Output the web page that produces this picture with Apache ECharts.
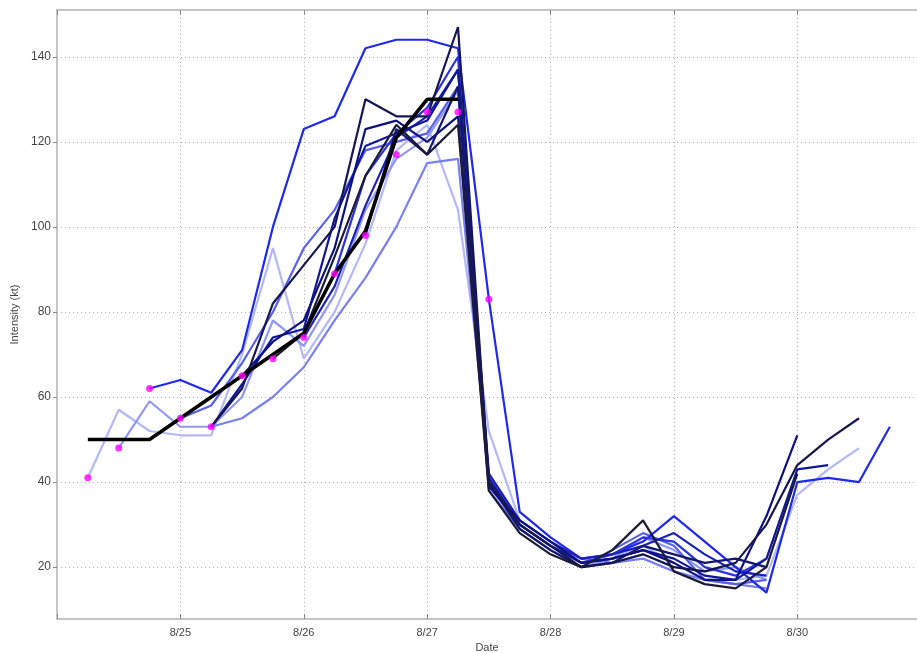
<!DOCTYPE html>
<html>
<head>
<meta charset="utf-8">
<script src="https://cdn.jsdelivr.net/npm/echarts@6/dist/echarts.min.js"></script>
<style>
  html, body { margin: 0; padding: 0; background: #fff; }
  #chart { width: 917px; height: 653px; }
</style>
</head>
<body>
<div id="chart"></div>
<script>
// 时间轴：8月的日（6小时一步）
var dayTicks = [25, 26, 27, 28, 29, 30];
var yTicks = [20, 40, 60, 80, 100, 120, 140];
var step = 0.25;

// 实测强度（品红点），起点 8/24 06Z
var obsStart = 24.25;
var obsValues = [41, 48, 62, 55, 53, 65, 69, 74, 89, 98, 117, 127, 127, 83];

// 最佳路径（黑粗线）
var bestStart = 24.25;
var bestValues = [50, 50, 50, 55, 60, 65, 70, 75, 89, 99, 121, 130, 130];

// 各预报序列：起报时间 + 强度，颜色由浅到深
var fc1Start = 24.25;
var fc1 = [41, 57, 52, 51, 51, 70, 95, 69, 80, 96, 118, 124, 104, 52, 31, 26, 21, 22, 25, 21, 17, 17, 18, 37, 43, 48];
var fc2Start = 24.5;
var fc2 = [48, 59, 53, 53, 60, 78, 72, 84, 104, 116, 121, 132, 40, 29, 24, 20, 22, 27, 24, 19, 20, 17];
var fc3Start = 25.25;
var fc3 = [53, 55, 60, 67, 78, 88, 100, 115, 116, 42, 30, 25, 22, 21, 22, 19, 17, 16, 15];
var fc4Start = 25.0;
var fc4 = [55, 58, 68, 80, 95, 104, 118, 120, 122, 133, 38, 29, 24, 20, 24, 28, 25, 17, 16, 17];
var fc5Start = 24.75;
var fc5 = [62, 64, 61, 71, 100, 123, 126, 142, 144, 144, 142, 83, 33, 27, 22, 23, 26, 32, 26, 20, 14, 40, 41, 40, 53];
var fc6Start = 26.25;
var fc6 = [89, 112, 122, 128, 140, 39, 30, 25, 21, 23, 27, 26, 20, 18, 22];
var fc7Start = 26.0;
var fc7 = [74, 86, 105, 121, 126, 137, 42, 31, 26, 22, 23, 25, 28, 23, 19, 18];
var fc8Start = 25.25;
var fc8 = [53, 63, 74, 76, 102, 119, 122, 125, 137, 41, 30, 25, 21, 22, 24, 22, 18, 17, 22, 43, 44];
var fc9Start = 25.5;
var fc9 = [65, 73, 78, 95, 123, 125, 120, 126, 39, 31, 26, 21, 22, 24, 21, 17, 17, 32, 51];
var fc10Start = 26.5;
var fc10 = [98, 123, 117, 133, 40, 29, 24, 20, 21, 25, 23, 21, 22, 20];
var fc11Start = 25.25;
var fc11 = [53, 62, 82, 91, 100, 130, 126, 126, 147, 40, 30, 25, 20, 21, 23, 20, 19, 21, 30, 44, 50, 55];
var fc12Start = 25.75;
var fc12 = [69, 75, 93, 112, 124, 117, 124, 38, 28, 23, 20, 24, 31, 19, 16, 15, 20, 42];

var forecasts = [
  { start: fc1Start, values: fc1, color: '#b3b8f7' },
  { start: fc2Start, values: fc2, color: '#8f97f3' },
  { start: fc3Start, values: fc3, color: '#7880f1' },
  { start: fc4Start, values: fc4, color: '#5760ef' },
  { start: fc5Start, values: fc5, color: '#1e28ee' },
  { start: fc6Start, values: fc6, color: '#2b33da' },
  { start: fc7Start, values: fc7, color: '#1a20b8' },
  { start: fc8Start, values: fc8, color: '#10169c' },
  { start: fc9Start, values: fc9, color: '#0c1080' },
  { start: fc10Start, values: fc10, color: '#14166a' },
  { start: fc11Start, values: fc11, color: '#161650' },
  { start: fc12Start, values: fc12, color: '#1c1c38' }
];

// 起报时间 + 数值 -> [x, y]
function toPairs(start, values) {
  return values.map(function (v, i) { return [start + i * step, v]; });
}

var series = forecasts.map(function (f) {
  return {
    type: 'line',
    data: toPairs(f.start, f.values),
    symbol: 'none',
    lineStyle: { color: f.color, width: 2.2 },
    z: 2
  };
});
series.push({
  type: 'line',
  data: toPairs(bestStart, bestValues),
  symbol: 'none',
  lineStyle: { color: '#000', width: 3.5 },
  z: 3
});
series.push({
  type: 'scatter',
  data: toPairs(obsStart, obsValues),
  symbolSize: 7,
  itemStyle: { color: '#ff00ff' },
  z: 4
});

var gridLine = { show: true, lineStyle: { color: '#b0b0b0', type: [1, 3], width: 1 } };
var frame = { show: true, onZero: false, lineStyle: { color: '#c4c4c4', width: 2 } };

var chart = echarts.init(document.getElementById('chart'));
chart.setOption({
  animation: false,
  textStyle: { fontFamily: 'Liberation Sans, Arial, sans-serif' },
  grid: { left: 57, right: 0, top: 10, bottom: 34, outerBoundsMode: 'none', containLabel: false },
  xAxis: [
    {
      type: 'value',
      min: 24, max: 30.97, interval: 1,
      name: 'Date', nameLocation: 'middle', nameGap: 23,
      nameTextStyle: { fontSize: 11, color: '#444' },
      axisLine: frame,
      axisTick: { inside: true, length: 5, lineStyle: { color: '#888' } },
      axisLabel: {
        fontSize: 11, color: '#444', margin: 8,
        formatter: function (v) { return dayTicks.indexOf(v) >= 0 ? '8/' + v : ''; }
      },
      splitLine: gridLine
    },
    {
      type: 'value', position: 'top',
      min: 24, max: 30.97, interval: 1,
      axisLine: frame,
      axisTick: { inside: true, length: 5, lineStyle: { color: '#888' } },
      axisLabel: { show: false },
      splitLine: { show: false }
    }
  ],
  yAxis: {
    type: 'value',
    min: 7.8, max: 151,
    name: 'Intensity (kt)', nameLocation: 'middle', nameGap: 37,
    nameTextStyle: { fontSize: 11, color: '#444' },
    axisLine: frame,
    axisTick: { inside: false, length: 4, customValues: yTicks, lineStyle: { color: '#888' } },
    axisLabel: { fontSize: 12, color: '#444', margin: 6, customValues: yTicks },
    splitLine: gridLine
  },
  series: series
});
</script>
</body>
</html>
